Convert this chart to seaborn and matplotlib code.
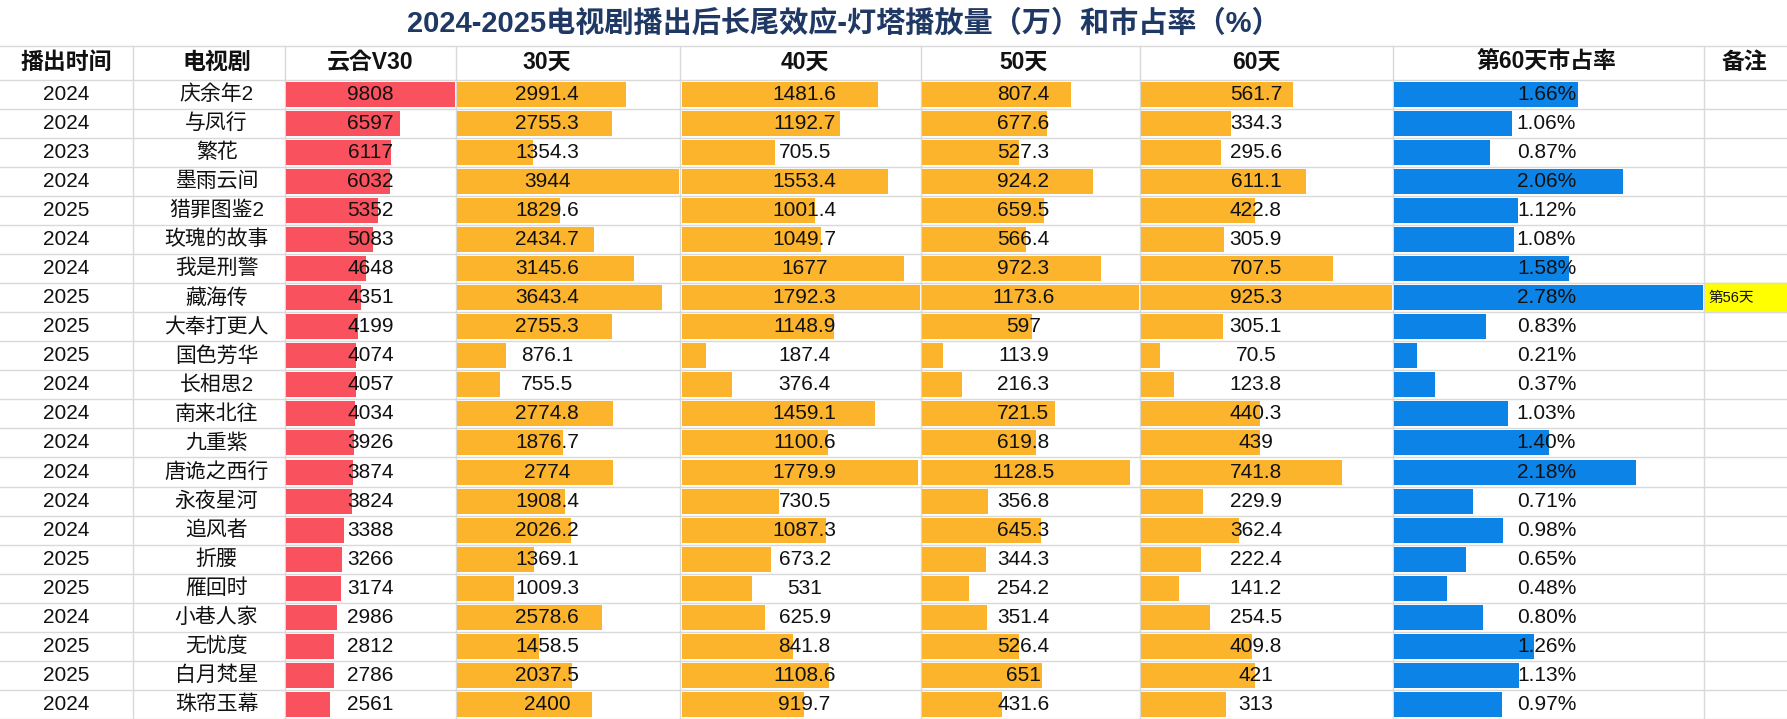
import matplotlib
matplotlib.use("Agg")
import matplotlib.pyplot as plt
from matplotlib import font_manager
import seaborn as sns

# pick whichever CJK family the font manager actually knows
names = {f.name for f in font_manager.fontManager.ttflist}
cjk = [n for n in ["Noto Sans CJK SC", "Noto Sans CJK JP", "Noto Sans CJK TC", "Noto Sans CJK KR"] if n in names]
plt.rcParams["font.family"] = ["Liberation Sans"] + cjk + ["DejaVu Sans"]

title = "2024-2025电视剧播出后长尾效应-灯塔播放量（万）和市占率（%）"
headers = ["播出时间", "电视剧", "云合V30", "30天", "40天", "50天", "60天", "第60天市占率", "备注"]

years = [2024, 2024, 2023, 2024, 2025, 2024, 2024, 2025, 2025, 2025, 2024,
         2024, 2024, 2024, 2024, 2024, 2025, 2025, 2024, 2025, 2025, 2024]
dramas = ["庆余年2", "与凤行", "繁花", "墨雨云间", "猎罪图鉴2", "玫瑰的故事", "我是刑警",
          "藏海传", "大奉打更人", "国色芳华", "长相思2", "南来北往", "九重紫", "唐诡之西行",
          "永夜星河", "追风者", "折腰", "雁回时", "小巷人家", "无忧度", "白月梵星", "珠帘玉幕"]
v30 = [9808, 6597, 6117, 6032, 5352, 5083, 4648, 4351, 4199, 4074, 4057,
       4034, 3926, 3874, 3824, 3388, 3266, 3174, 2986, 2812, 2786, 2561]
d30 = [2991.4, 2755.3, 1354.3, 3944, 1829.6, 2434.7, 3145.6, 3643.4, 2755.3, 876.1, 755.5,
       2774.8, 1876.7, 2774, 1908.4, 2026.2, 1369.1, 1009.3, 2578.6, 1458.5, 2037.5, 2400]
d40 = [1481.6, 1192.7, 705.5, 1553.4, 1001.4, 1049.7, 1677, 1792.3, 1148.9, 187.4, 376.4,
       1459.1, 1100.6, 1779.9, 730.5, 1087.3, 673.2, 531, 625.9, 841.8, 1108.6, 919.7]
d50 = [807.4, 677.6, 527.3, 924.2, 659.5, 566.4, 972.3, 1173.6, 597, 113.9, 216.3,
       721.5, 619.8, 1128.5, 356.8, 645.3, 344.3, 254.2, 351.4, 526.4, 651, 431.6]
d60 = [561.7, 334.3, 295.6, 611.1, 422.8, 305.9, 707.5, 925.3, 305.1, 70.5, 123.8,
       440.3, 439, 741.8, 229.9, 362.4, 222.4, 141.2, 254.5, 409.8, 421, 313]
share = [1.66, 1.06, 0.87, 2.06, 1.12, 1.08, 1.58, 2.78, 0.83, 0.21, 0.37,
         1.03, 1.40, 2.18, 0.71, 0.98, 0.65, 0.48, 0.80, 1.26, 1.13, 0.97]
notes = {7: "第56天"}

# layout in reference pixel units
W, H = 1568, 631
edges = [0, 117, 250, 400, 597, 808, 1000, 1222, 1495, 1568]
text_x = [58, 190, 325, 480, 706, 898, 1102, 1357, 1531]
top0, rh = 70, 25.5
n = len(dramas)

fig = plt.figure(figsize=(17.87, 7.19), dpi=100)
bg = fig.add_axes([0, 0, 1, 1])
bg.set_xlim(0, W)
bg.set_ylim(H, 0)
bg.axis("off")
grid = "#d9d9d9"
for x in edges[1:-1]:
    bg.plot([x, x], [40, H], color=grid, lw=1)
for i in range(n + 2):
    y = 40 if i == 0 else top0 + (i - 1) * rh
    bg.plot([0, W], [y, y], color=grid, lw=1)
bg.add_patch(plt.Rectangle((1495, top0 + 7 * rh), 73, rh, color="#FFFF00", zorder=0))

bar_cols = [(v30, "#F9525E"), (d30, "#FBB42C"), (d40, "#FBB42C"), (d50, "#FBB42C"),
            (d60, "#FBB42C"), (share, "#0C83E6")]
for k, (vals, col) in enumerate(bar_cols):
    x0, x1 = edges[k + 2], edges[k + 3]
    ax = fig.add_axes([(x0 + 1) / W, 1 - (top0 + n * rh) / H, (x1 - x0 - 2) / W, n * rh / H])
    sns.barplot(x=vals, y=dramas, orient="h", color=col, saturation=1, width=0.86, ax=ax)
    ax.set_xlim(0, max(vals))
    ax.set_ylim(n - 0.5, -0.5)
    ax.axis("off")
    ax.patch.set_alpha(0)

fg = fig.add_axes([0, 0, 1, 1])
fg.set_xlim(0, W)
fg.set_ylim(H, 0)
fg.axis("off")
fg.patch.set_alpha(0)
fg.text(740, 21, title, ha="center", va="center", fontsize=21, fontweight="bold", color="#1F3864")
for x, h in zip(text_x, headers):
    fg.text(x, 55, h, ha="center", va="center", fontsize=16.5, fontweight="bold", color="#111111")
for i in range(n):
    y = top0 + (i + 0.5) * rh
    cells = [str(years[i]), dramas[i], str(v30[i]), "%g" % d30[i], "%g" % d40[i],
             "%g" % d50[i], "%g" % d60[i], "%.2f%%" % share[i]]
    for x, s in zip(text_x, cells):
        fg.text(x, y, s, ha="center", va="center", fontsize=15, color="#111111")
    if i in notes:
        fg.text(1499, y, notes[i], ha="left", va="center", fontsize=10.5, color="#111111")

fig.savefig("out.png", dpi=100, facecolor="white")
